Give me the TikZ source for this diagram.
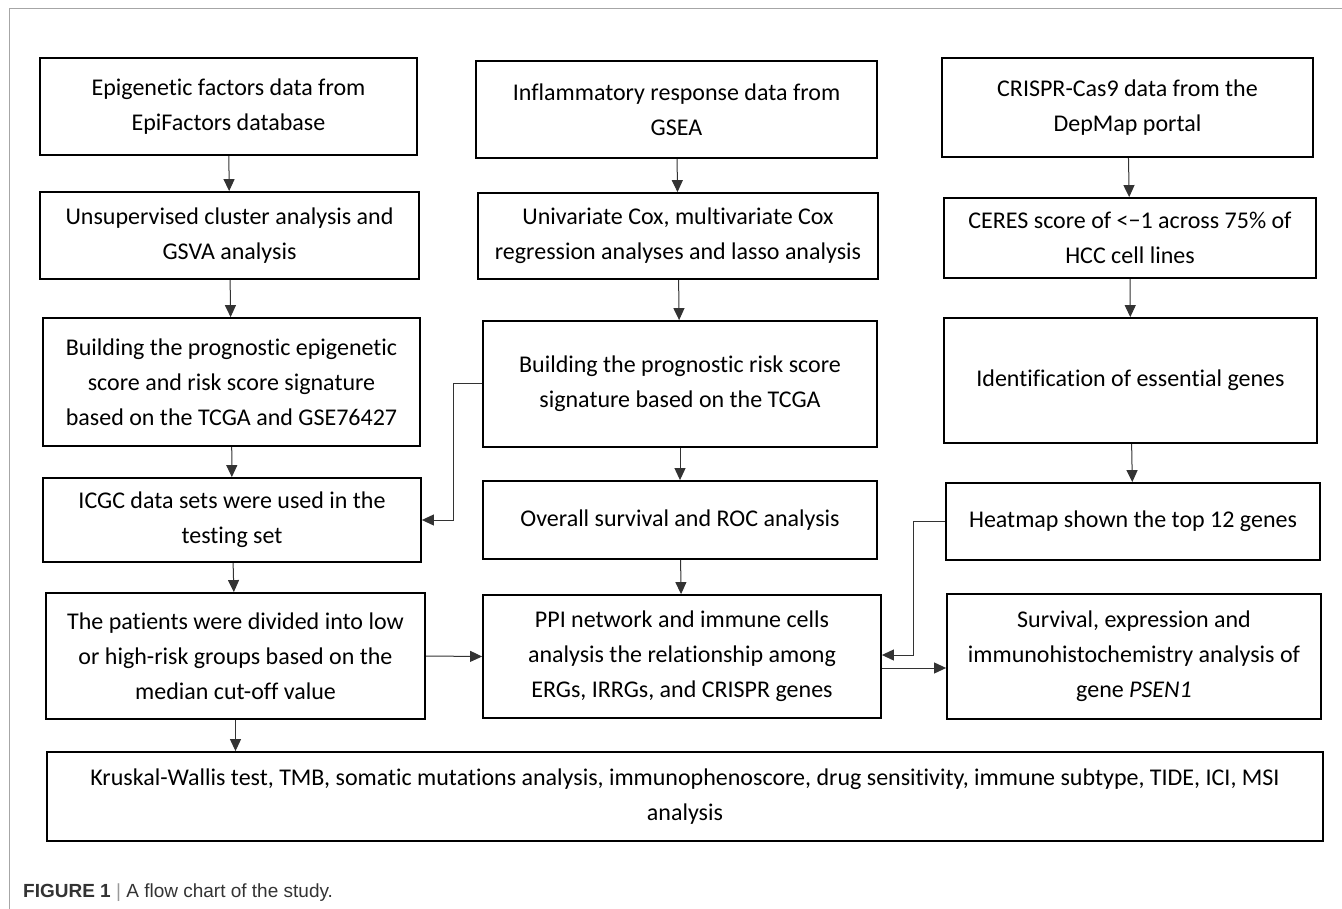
\documentclass[tikz,border=0pt]{standalone}
\usepackage{fontspec}
\setmainfont{Carlito}[Ligatures=NoCommon]
\newfontfamily\capfont{Liberation Sans}
\usetikzlibrary{arrows.meta}
\pgfdeclarelayer{bg}
\pgfsetlayers{bg,main}

\begin{document}
\begin{tikzpicture}[x=1pt, y=-1pt,
        box/.style={draw=black, line width=1.8pt, align=center, inner sep=0pt,
                font=\fontsize{24}{35}\selectfont},
        flow/.style={draw=black!80, line width=1pt, -{Triangle[length=12pt,width=11pt]}}]
        \useasboundingbox (0,0) rectangle (1342,909);
        \draw [black!35, line width=1pt] (9,909) -- (9,9) -- (1342,9);
        % epigenetic column
        \node (b1) [box, minimum width=377pt, minimum height=97pt] at (228.5, 106.5) {Epigenetic factors data from\\EpiFactors database};
        \node (b2) [box, minimum width=379pt, minimum height=87pt] at (229.5, 235.5) {Unsupervised cluster analysis and\\GSVA analysis};
        \node (b3) [box, minimum width=377pt, minimum height=128pt] at (231.5, 382) {Building the prognostic epigenetic\\score and risk score signature\\based on the TCGA and GSE76427};
        \node (b4) [box, minimum width=378pt, minimum height=84pt] at (232, 520) {ICGC data sets were used in the\\testing set};
        \node (b5) [box, minimum width=379pt, minimum height=126pt] at (235.5, 656) {The patients were divided into low\\or high-risk groups based on the\\median cut-off value};
        % inflammatory column
        \node (c1) [box, minimum width=401pt, minimum height=97pt] at (676.5, 109.5) {Inflammatory response data from\\GSEA};
        \node (c2) [box, minimum width=400pt, minimum height=86pt] at (678, 236) {Univariate Cox, multivariate Cox\\regression analyses and lasso analysis};
        \node (c3) [box, minimum width=394pt, minimum height=126pt] at (680, 384) {Building the prognostic risk score\\signature based on the TCGA};
        \node (c4) [box, minimum width=394pt, minimum height=78pt] at (680, 520) {Overall survival and ROC analysis};
        \node (c5) [box, minimum width=398pt, minimum height=123pt] at (682, 656.5) {PPI network and immune cells\\analysis the relationship among\\ERGs, IRRGs, and CRISPR genes};
        % crispr column
        \node (d1) [box, minimum width=371pt, minimum height=99pt] at (1127.5, 107.5) {CRISPR-Cas9 data from the\\DepMap portal};
        \node (d2) [box, minimum width=372pt, minimum height=80pt] at (1130, 238) {CERES score of <−1 across 75\% of\\HCC cell lines};
        \node (d3) [box, minimum width=373pt, minimum height=125pt] at (1130.5, 380.5) {Identification of essential genes};
        \node (d4) [box, minimum width=374pt, minimum height=77pt] at (1133, 521.5) {Heatmap shown the top 12 genes};
        \node (d5) [box, minimum width=374pt, minimum height=125pt] at (1134, 656.5) {Survival, expression and\\immunohistochemistry analysis of\\gene \textit{PSEN1}};
        \node (e) [box, minimum width=1276pt, minimum height=89pt] at (685, 796.5) {Kruskal-Wallis test, TMB, somatic mutations analysis, immunophenoscore, drug sensitivity, immune subtype, TIDE, ICI, MSI\\analysis};
        \node (cap) [anchor=west, inner sep=0pt, text=black!80, font=\capfont\fontsize{19}{23}\selectfont] at (23, 893) {\textbf{FIGURE 1} \textcolor{black!40}{|} A flow chart of the study.};
        \begin{pgfonlayer}{bg}
                \draw [flow] (b1) -- (b2);
                \draw [flow] (b2) -- (b3);
                \draw [flow] (b3) -- (b4);
                \draw [flow] (b4) -- (b5);
                \draw [flow] (b5.south) -- (b5.south |- e.north);
                \draw [flow] (c1) -- (c2);
                \draw [flow] (c2) -- (c3);
                \draw [flow] (c3) -- (c4);
                \draw [flow] (c4) -- (c5);
                \draw [flow] (d1) -- (d2);
                \draw [flow] (d2) -- (d3);
                \draw [flow] (d3) -- (d4);
                \draw [flow] (c3.west) -- ++(-29,0) |- (b4.east);
                \draw [flow] (d4.west) -- ++(-32,0) |- ([yshift=1.5pt]c5.east);
                \draw [flow] (b5.east) -- (c5.west);
                \draw [flow] ([yshift=-11.5pt]c5.east) -- ([yshift=-11.5pt]c5.east -| d5.west);
        \end{pgfonlayer}
\end{tikzpicture}
\end{document}
